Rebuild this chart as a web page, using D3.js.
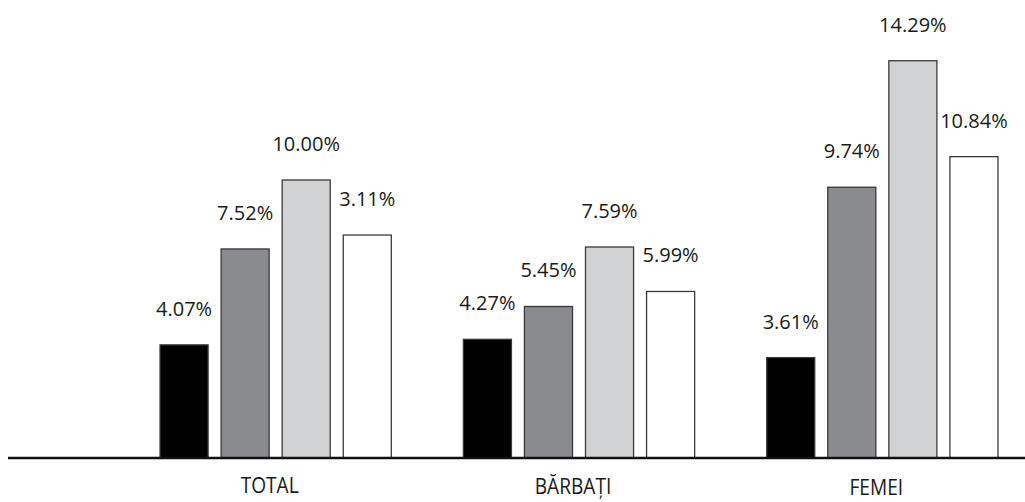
<!DOCTYPE html>
<html>
<head>
<meta charset="utf-8">
<script src="https://cdn.jsdelivr.net/npm/d3@7"></script>
<style>
  body { margin: 0; background: #fff; }
  text { font-family: "Open Sans", sans-serif; fill: #1a1a1a; }
</style>
</head>
<body>
<svg width="1025" height="502"></svg>
<script>
var categories = ["TOTAL", "BĂRBAȚI", "FEMEI"];
var series = ["s1", "s2", "s3", "s4"];
// bar heights (%)
var s1 = [4.07, 4.27, 3.61];
var s2 = [7.52, 5.45, 9.74];
var s3 = [10.00, 7.59, 14.29];
var s4 = [8.02, 5.99, 10.84];
// labels as printed in the chart
var labels = [
  ["4.07%", "7.52%", "10.00%", "3.11%"],
  ["4.27%", "5.45%", "7.59%", "5.99%"],
  ["3.61%", "9.74%", "14.29%", "10.84%"]
];
var colors = ["#000000", "#8a8b8e", "#d1d2d4", "#ffffff"];

var svg = d3.select("svg");
var baseline = 458;

var x0 = d3.scaleBand()
  .domain(categories)
  .range([124, 1034]);

var x1 = d3.scaleBand()
  .domain(series)
  .range([0, x0.bandwidth()])
  .paddingInner(0.213)
  .paddingOuter(0.59);

var y = d3.scaleLinear()
  .domain([0, 16])
  .range([baseline, baseline - 16 * 27.8]);

var data = categories.map(function(c, i) {
  return { cat: c, i: i, vals: [s1[i], s2[i], s3[i], s4[i]] };
});

var groups = svg.selectAll("g.grp")
  .data(data)
  .enter()
  .append("g")
  .attr("class", "grp")
  .attr("transform", function(d) { return "translate(" + x0(d.cat) + ",0)"; });

// bars
groups.selectAll("rect")
  .data(function(d) {
    return d.vals.map(function(v, j) { return { v: v, j: j, i: d.i }; });
  })
  .enter()
  .append("rect")
  .attr("x", function(d) { return x1(series[d.j]); })
  .attr("y", function(d) { return y(d.v); })
  .attr("width", x1.bandwidth())
  .attr("height", function(d) { return y(0) - y(d.v); })
  .attr("fill", function(d) { return colors[d.j]; })
  .attr("stroke", "#3a3a3a")
  .attr("stroke-width", 1.3);

// value labels
groups.selectAll("text.val")
  .data(function(d) {
    return d.vals.map(function(v, j) { return { v: v, j: j, i: d.i }; });
  })
  .enter()
  .append("text")
  .attr("class", "val")
  .attr("x", function(d) { return x1(series[d.j]) + x1.bandwidth() / 2; })
  .attr("y", function(d) { return y(d.v) - 29; })
  .attr("text-anchor", "middle")
  .attr("font-size", 20)
  .text(function(d) { return labels[d.i][d.j]; });

// baseline
svg.append("line")
  .attr("x1", 8)
  .attr("x2", 1025)
  .attr("y1", baseline)
  .attr("y2", baseline)
  .attr("stroke", "#111")
  .attr("stroke-width", 2.5);

// category labels
svg.selectAll("text.cat")
  .data(categories)
  .enter()
  .append("text")
  .attr("class", "cat")
  .attr("transform", function(d, i) {
    return "translate(" + (x0(d) + x0.bandwidth() / 2 - 6) + "," + (493 + i) + ") scale(0.87,1)";
  })
  .attr("text-anchor", "middle")
  .attr("font-size", 22)
  .text(function(d) { return d; });
</script>
</body>
</html>
